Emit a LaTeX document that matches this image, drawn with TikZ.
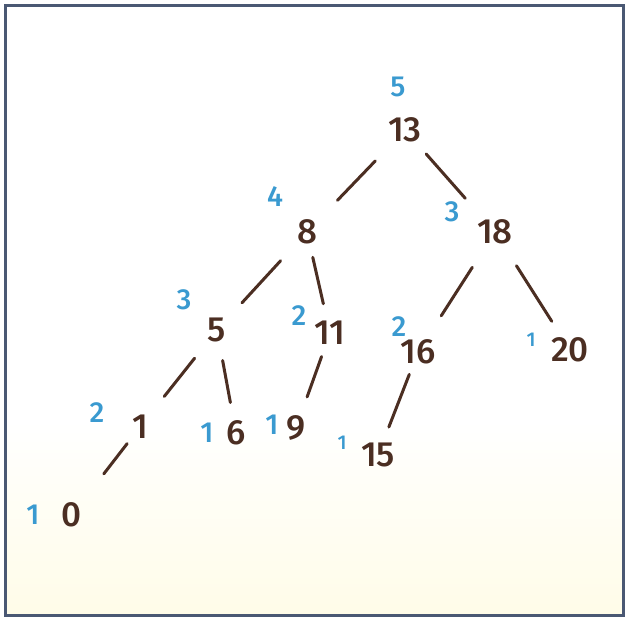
\documentclass[tikz,border=0pt]{standalone}
\usepackage{fontspec}
\setmainfont{Fira Sans Medium}
\definecolor{ink}{RGB}{75,46,34}
\definecolor{hblue}{RGB}{58,154,208}
\definecolor{frame}{RGB}{74,88,115}
\definecolor{paper}{RGB}{255,252,232}
\begin{document}
\begin{tikzpicture}[x=1pt,y=-1pt,
  key/.style={text=ink,font=\fontsize{35}{35}\selectfont,inner sep=0pt},
  ht/.style={text=hblue,font=\fontsize{29}{29}\selectfont,inner sep=0pt},
  htsmall/.style={text=hblue,font=\fontsize{20}{20}\selectfont,inner sep=0pt},
  edge/.style={draw=ink,line width=3pt,line cap=round}]
\useasboundingbox (0,0) rectangle (626,618);
\fill[white] (5,5) rectangle (624,616);
\shade[top color=white,bottom color=paper] (5,420) rectangle (624,616);
\draw[frame,line width=3pt] (5.5,5.5) rectangle (623.5,615.5);
% keys
\node[key] (n13) at (405,130) {13};
\node[key] (n8) at (307,232) {8};
\node[key] (n18) at (495,232) {18};
\node[key] (n5) at (217,330) {5};
\node[key] (n11) at (330,333) {11};
\node[key] (n16) at (418,352) {16};
\node[key] (n20) at (570,350) {20};
\node[key] (n1) at (140,427) {1};
\node[key] (n6) at (236,433) {6};
\node[key] (n9) at (296,428) {9};
\node[key] (n15) at (378,455) {15};
\node[key] (n0) at (72,515) {0};
% heights
\node[ht] (h13) at (398,87) {5};
\node[ht] (h8) at (275,197) {4};
\node[ht] (h18) at (452,212) {3};
\node[ht] (h5) at (184,300) {3};
\node[ht] (h11) at (299,316) {2};
\node[ht] (h16) at (399,327) {2};
\node[htsmall] (h20) at (531,340) {1};
\node[ht] (h1) at (97,413) {2};
\node[ht] (h6) at (207,433) {1};
\node[ht] (h9) at (272,425) {1};
\node[htsmall] (h15) at (342,443) {1};
\node[ht] (h0) at (33,515) {1};
% edges
\draw[edge,shorten <=43pt,shorten >=44pt] (n13.center) -- (n8.center);
\draw[edge,shorten <=32pt,shorten >=45pt] (n13.center) -- (n18.center);
\draw[edge,shorten <=39pt,shorten >=37pt] (n8.center) -- (n5.center);
\draw[edge,shorten <=26pt,shorten >=30pt] (n8.center) -- (n11.center);
\draw[edge,shorten <=42pt,shorten >=43pt] (n18.center) -- (n16.center);
\draw[edge,shorten <=40pt,shorten >=34pt] (n18.center) -- (n20.center);
\draw[edge,shorten <=36pt,shorten >=39pt] (n5.center) -- (n1.center);
\draw[edge,shorten <=31pt,shorten >=31pt] (n5.center) -- (n6.center);
\draw[edge,shorten <=25pt,shorten >=33pt] (n11.center) -- (n9.center);
\draw[edge,shorten <=24pt,shorten >=30pt] (n16.center) -- (n15.center);
\draw[edge,shorten <=21pt,shorten >=52pt] (n1.center) -- (n0.center);
\end{tikzpicture}
\end{document}
